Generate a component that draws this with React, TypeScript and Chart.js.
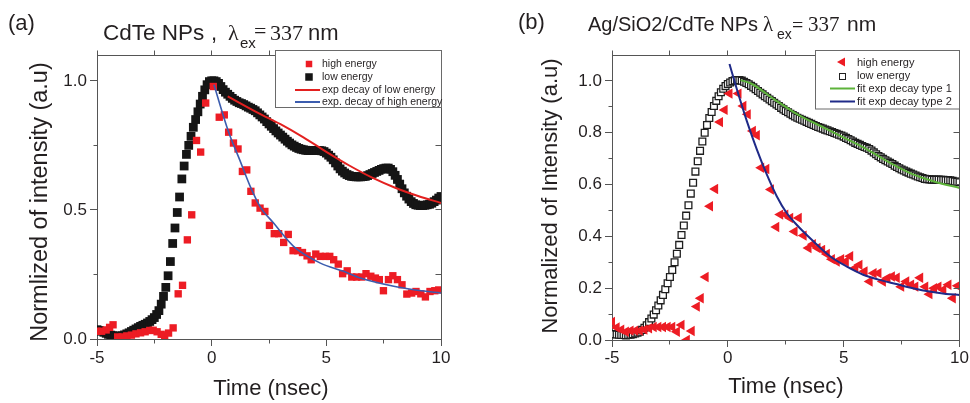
import React, { useEffect, useRef } from 'react';
import { Chart, registerables } from 'chart.js';

Chart.register(...registerables);

// ---------- panel (a): CdTe NPs ----------
// low-energy trace, sampled every 0.1 ns starting at -5 ns
const A_LOW_START = -5;
const A_LOW_STEP = 0.1;
const A_LOW = [
  0.036, 0.033, 0.030, 0.026, 0.022, 0.018, 0.015, 0.013, 0.011, 0.010,
  0.011, 0.013, 0.016, 0.020, 0.024, 0.029, 0.034, 0.039, 0.044, 0.049,
  0.053, 0.057, 0.062, 0.068, 0.075, 0.083, 0.095, 0.110, 0.135, 0.165,
  0.200, 0.245, 0.300, 0.370, 0.430, 0.490, 0.550, 0.620, 0.670, 0.715,
  0.750, 0.785, 0.820, 0.850, 0.880, 0.910, 0.940, 0.965, 0.985, 0.997,
  1.000, 1.000, 0.997, 0.990, 0.978, 0.966, 0.956, 0.948, 0.940, 0.932,
  0.925, 0.920, 0.915, 0.912, 0.908, 0.903, 0.898, 0.894, 0.889, 0.884,
  0.876, 0.868, 0.860, 0.852, 0.842, 0.833, 0.824, 0.815, 0.806, 0.798,
  0.790, 0.782, 0.774, 0.766, 0.759, 0.752, 0.747, 0.742, 0.738, 0.735,
  0.733, 0.731, 0.730, 0.730, 0.730, 0.730, 0.730, 0.730, 0.729, 0.726,
  0.720, 0.712, 0.704, 0.694, 0.682, 0.670, 0.659, 0.650, 0.643, 0.637,
  0.633, 0.630, 0.629, 0.628, 0.628, 0.628, 0.629, 0.630, 0.633, 0.637,
  0.641, 0.645, 0.649, 0.653, 0.657, 0.660, 0.662, 0.662, 0.657, 0.648,
  0.634, 0.618, 0.600, 0.582, 0.566, 0.553, 0.542, 0.532, 0.525, 0.520,
  0.518, 0.517, 0.517, 0.518, 0.520, 0.522, 0.526, 0.532, 0.538, 0.546,
  0.552,
];

const A_HIGH_T = [
  -5.0, -4.8, -4.6, -4.45, -4.3, -4.1, -3.9, -3.7, -3.5, -3.3,
  -3.1, -2.9, -2.7, -2.55, -2.38, -2.2, -2.05, -1.88, -1.68, -1.46,
  -1.27, -1.06, -0.87, -0.66, -0.48, -0.26, 0.07, 0.33, 0.55, 0.74,
  0.95, 1.15, 1.34, 1.53, 1.71, 1.9, 2.11, 2.32, 2.52, 2.73,
  2.92, 3.14, 3.34, 3.55, 3.75, 3.96, 4.16, 4.34, 4.54, 4.74,
  4.96, 5.15, 5.32, 5.52, 5.71, 5.91, 6.11, 6.32, 6.54, 6.73,
  6.94, 7.14, 7.31, 7.49, 7.71, 7.9, 8.1, 8.3, 8.51, 8.72,
  8.91, 9.12, 9.32, 9.52, 9.73, 9.9,
];
const A_HIGH = [
  0.03, 0.03, 0.035, 0.045, 0.055, 0.008, 0.008, 0.012, 0.015, 0.02,
  0.024, 0.028, 0.033, 0.034, 0.028, 0.018, 0.012, 0.023, 0.043, 0.175,
  0.208, 0.384, 0.481, 0.769, 0.724, 0.914, 0.978, 0.859, 0.868, 0.801,
  0.759, 0.736, 0.649, 0.655, 0.572, 0.527, 0.507, 0.494, 0.44, 0.408,
  0.408, 0.374, 0.405, 0.342, 0.342, 0.335, 0.322, 0.307, 0.329, 0.32,
  0.32, 0.32, 0.307, 0.29, 0.253, 0.264, 0.24, 0.24, 0.24, 0.253,
  0.243, 0.236, 0.23, 0.187, 0.23, 0.245, 0.23, 0.21, 0.174, 0.178,
  0.184, 0.175, 0.163, 0.184, 0.187, 0.19,
];

const A_FIT_LOW_T = [0.7, 2, 3, 4, 5, 6, 7, 8, 9, 10];
const A_FIT_LOW = [0.94, 0.877, 0.832, 0.781, 0.725, 0.672, 0.625, 0.586, 0.554, 0.527];

const A_FIT_HIGH_T = [0.1, 0.73, 1.24, 1.68, 2.11, 2.7, 3.57, 4.74, 5.76, 6.49, 7.94, 8.82, 10];
const A_FIT_HIGH = [0.985, 0.804, 0.69, 0.591, 0.513, 0.449, 0.359, 0.294, 0.262, 0.236, 0.204, 0.191, 0.178];

// ---------- panel (b): Ag/SiO2/CdTe NPs ----------
const B_LOW_START = -5;
const B_LOW_STEP = 0.1;
const B_LOW = [
  0.023, 0.022, 0.021, 0.020, 0.019, 0.019, 0.018, 0.019, 0.020, 0.022,
  0.025, 0.028, 0.032, 0.039, 0.047, 0.057, 0.069, 0.083, 0.098, 0.115,
  0.133, 0.153, 0.174, 0.196, 0.219, 0.243, 0.270, 0.300, 0.333, 0.367,
  0.405, 0.442, 0.480, 0.520, 0.565, 0.607, 0.650, 0.690, 0.730, 0.766,
  0.800, 0.830, 0.857, 0.880, 0.903, 0.923, 0.941, 0.956, 0.970, 0.980,
  0.988, 0.994, 0.999, 1.002, 1.003, 1.003, 1.001, 0.997, 0.992, 0.987,
  0.981, 0.975, 0.968, 0.961, 0.954, 0.948, 0.941, 0.935, 0.928, 0.922,
  0.916, 0.909, 0.903, 0.896, 0.890, 0.884, 0.879, 0.873, 0.868, 0.863,
  0.858, 0.854, 0.850, 0.846, 0.842, 0.838, 0.834, 0.830, 0.826, 0.822,
  0.819, 0.816, 0.812, 0.809, 0.806, 0.803, 0.799, 0.796, 0.792, 0.789,
  0.785, 0.780, 0.776, 0.771, 0.766, 0.761, 0.757, 0.753, 0.749, 0.745,
  0.742, 0.737, 0.731, 0.724, 0.717, 0.710, 0.705, 0.699, 0.694, 0.689,
  0.684, 0.679, 0.673, 0.668, 0.663, 0.658, 0.654, 0.650, 0.646, 0.642,
  0.639, 0.635, 0.631, 0.628, 0.625, 0.622, 0.621, 0.620, 0.619, 0.619,
  0.619, 0.619, 0.618, 0.618, 0.617, 0.617, 0.616, 0.614, 0.612, 0.611,
  0.609,
];

const B_HIGH_T = [
  -5.0, -4.8, -4.6, -4.4, -4.2, -4.0, -3.8, -3.6, -3.4, -3.2,
  -3.0, -2.8, -2.6, -2.4, -2.2, -2.0,
  -1.77, -1.56, -1.34, -1.17, -0.96, -0.77, -0.55, -0.34, -0.14, 0.07,
  0.46, 0.67, 0.86, 1.08, 1.25, 1.44, 1.66, 1.86, 2.09, 2.26,
  2.48, 2.69, 2.88, 3.06, 3.27, 3.48, 3.67, 3.87, 4.07, 4.27,
  4.49, 4.7, 4.89, 5.09, 5.28, 5.5, 5.68, 5.9, 6.12, 6.29,
  6.5, 6.69, 6.89, 7.08, 7.29, 7.48, 7.7, 7.91, 8.09, 8.3,
  8.52, 8.7, 8.9, 9.09, 9.3, 9.52, 9.71, 9.92,
];
const B_HIGH = [
  0.07, 0.048, 0.04, 0.032, 0.036, 0.036, 0.036, 0.04, 0.045, 0.05,
  0.05, 0.05, 0.05, 0.05, 0.032, 0.058,
  0.0, 0.035, 0.129, 0.161, 0.243, 0.516, 0.583, 0.841, 0.888, 0.951,
  0.951, 0.903, 0.871, 0.807, 0.79, 0.665, 0.66, 0.581, 0.436, 0.484,
  0.484, 0.471, 0.419, 0.471, 0.403, 0.355, 0.37, 0.355, 0.348, 0.332,
  0.312, 0.303, 0.312, 0.303, 0.323, 0.278, 0.29, 0.265, 0.226, 0.258,
  0.258, 0.226, 0.239, 0.245, 0.24, 0.206, 0.226, 0.213, 0.206, 0.24,
  0.206, 0.177, 0.2, 0.206, 0.194, 0.213, 0.161, 0.209,
];

const B_FIT1_T = [0.55, 1, 2, 3, 4, 5, 6, 7, 8, 9, 10];
const B_FIT1 = [1.003, 0.99, 0.929, 0.871, 0.826, 0.781, 0.736, 0.684, 0.639, 0.609, 0.587];

const B_FIT2_T = [0.07, 0.39, 0.82, 1.25, 1.68, 2.11, 2.54, 2.97, 3.69, 4.41, 5.12, 5.84, 6.55, 7.27, 7.99, 8.7, 9.42, 10];
const B_FIT2 = [1.065, 0.968, 0.845, 0.736, 0.639, 0.555, 0.49, 0.445, 0.381, 0.323, 0.284, 0.252, 0.232, 0.216, 0.2, 0.187, 0.178, 0.174];

// ---------- axes ----------
const X_MAJOR = [-5, 0, 5, 10];
const X_MINOR = [-2.5, 2.5, 7.5];
const X_TOP = [-5, -2.5, 0, 2.5, 5, 7.5, 10];
const A_Y_MAJOR = [0, 0.5, 1.0];
const A_Y_MINOR = [0.25, 0.75];
const A_Y_RIGHT = [0.25, 0.5, 0.75, 1.0];
const B_Y_MAJOR = [0, 0.2, 0.4, 0.6, 0.8, 1.0];
const B_Y_MINOR = [0.1, 0.3, 0.5, 0.7, 0.9];
const B_Y_RIGHT = [0.1, 0.2, 0.3, 0.4, 0.5, 0.6, 0.7, 0.8, 0.9, 1.0];

const A_LEGEND = ['high energy', 'low energy', 'exp decay of low energy', 'exp. decay of high energy'];
const B_LEGEND = ['high energy', 'low energy', 'fit exp decay type 1', 'fit exp decay type 2'];

// ---------- styling ----------
const SANS = '"Liberation Sans", Arial, Helvetica, sans-serif';
const SERIF = '"Liberation Serif", "Times New Roman", serif';
const INK = '#231f20';
const AXIS = '#555555';
const RED = '#ed1c24';
const BLACK = '#151515';
const RED_LINE = '#e3201f';
const A_BLUE = '#3b5cae';
const GREEN = '#5db33a';
const NAVY = '#1f2a88';

const pairs = (ts: number[], vs: number[]) => ts.map((t, i) => ({ x: t, y: vs[i] }));
const sampled = (t0: number, dt: number, vs: number[]) =>
  vs.map((v, i) => ({ x: Math.round((t0 + i * dt) * 100) / 100, y: v }));

type Seg = { t: string; x: number; y: number; font: string };
type LegendRow = { label: string; kind: 'rect' | 'hollow' | 'tri' | 'line'; color: string; size?: number };

interface Panel {
  offsetX: number;
  padTop: number;
  padRight: number;
  yWidth: number;
  xHeight: number;
  xPad: number;
  yMax: number;
  yMajor: number[];
  yMinor: number[];
  yRight: number[];
  datasets: any[];
  tag: Seg;
  title: Seg[];
  yTitle: { t: string; x: number; y: number; size: number };
  xTitle: { t: string; x: number; y: number };
  legend: {
    box: [number, number, number, number];
    symX: number;
    line: [number, number];
    textX: number;
    rows: number[];
    font: string;
    items: LegendRow[];
  };
}

const lineDs = (label: string, ts: number[], vs: number[], color: string, width: number) => ({
  label,
  data: pairs(ts, vs),
  showLine: true,
  pointRadius: 0,
  borderColor: color,
  borderWidth: width,
  cubicInterpolationMode: 'monotone',
  order: 0,
});

const PANEL_A: Panel = {
  offsetX: 0,
  padTop: 55,
  padRight: 44,
  yWidth: 97,
  xHeight: 64,
  xPad: 2,
  yMax: 1.1,
  yMajor: A_Y_MAJOR,
  yMinor: A_Y_MINOR,
  yRight: A_Y_RIGHT,
  datasets: [
    lineDs(A_LEGEND[3], A_FIT_HIGH_T, A_FIT_HIGH, A_BLUE, 1.6),
    lineDs(A_LEGEND[2], A_FIT_LOW_T, A_FIT_LOW, RED_LINE, 2),
    {
      label: A_LEGEND[0],
      data: pairs(A_HIGH_T, A_HIGH),
      pointStyle: 'rect',
      pointRadius: 5.2,
      pointBackgroundColor: RED,
      pointBorderWidth: 0,
      order: 1,
    },
    {
      label: A_LEGEND[1],
      data: sampled(A_LOW_START, A_LOW_STEP, A_LOW),
      pointStyle: 'rect',
      pointRadius: 6.2,
      pointBackgroundColor: BLACK,
      pointBorderWidth: 0,
      order: 2,
    },
  ],
  tag: { t: '(a)', x: 8, y: 30, font: `22px ${SANS}` },
  title: [
    { t: 'CdTe NPs', x: 103, y: 40, font: `22.5px ${SANS}` },
    { t: ',', x: 211, y: 40, font: `22px ${SANS}` },
    { t: 'λ', x: 228, y: 40, font: `22px ${SERIF}` },
    { t: 'ex', x: 240, y: 48, font: `15px ${SANS}` },
    { t: '=', x: 254, y: 38, font: `22px ${SERIF}` },
    { t: '337', x: 270, y: 40, font: `22px ${SERIF}` },
    { t: 'nm', x: 308, y: 40, font: `22px ${SANS}` },
  ],
  yTitle: { t: 'Normlized of intensity (a.u)', x: 41, y: 202, size: 23.5 },
  xTitle: { t: 'Time (nsec)', x: 271, y: 389 },
  legend: {
    box: [275.5, 50.5, 166, 57],
    symX: 309,
    line: [295, 320],
    textX: 322,
    rows: [64, 77, 90, 102],
    font: `10.5px ${SANS}`,
    items: [
      { label: A_LEGEND[0], kind: 'rect', color: RED, size: 6.5 },
      { label: A_LEGEND[1], kind: 'rect', color: BLACK, size: 7.5 },
      { label: A_LEGEND[2], kind: 'line', color: RED_LINE },
      { label: A_LEGEND[3], kind: 'line', color: A_BLUE },
    ],
  },
};

const PANEL_B: Panel = {
  offsetX: 485,
  padTop: 55,
  padRight: 10,
  yWidth: 127,
  xHeight: 63,
  xPad: 1,
  yMax: 1.1,
  yMajor: B_Y_MAJOR,
  yMinor: B_Y_MINOR,
  yRight: B_Y_RIGHT,
  datasets: [
    lineDs(B_LEGEND[3], B_FIT2_T, B_FIT2, NAVY, 2),
    lineDs(B_LEGEND[2], B_FIT1_T, B_FIT1, GREEN, 2),
    {
      label: B_LEGEND[0],
      data: pairs(B_HIGH_T, B_HIGH),
      pointStyle: 'triangle',
      pointRotation: -90,
      pointRadius: 6,
      pointBackgroundColor: RED,
      pointBorderWidth: 0,
      order: 1,
    },
    {
      label: B_LEGEND[1],
      data: sampled(B_LOW_START, B_LOW_STEP, B_LOW),
      pointStyle: 'rect',
      pointRadius: 4.8,
      pointBackgroundColor: '#ffffff',
      pointBorderColor: '#1e1e1e',
      pointBorderWidth: 1.3,
      order: 2,
    },
  ],
  tag: { t: '(b)', x: 518, y: 29, font: `22px ${SANS}` },
  title: [
    { t: 'Ag/SiO2/CdTe NPs', x: 588, y: 31, font: `20px ${SANS}` },
    { t: 'λ', x: 763, y: 31, font: `21px ${SERIF}` },
    { t: 'ex', x: 777, y: 39, font: `14px ${SANS}` },
    { t: '=', x: 792, y: 32, font: `20px ${SERIF}` },
    { t: '337', x: 808, y: 31, font: `21px ${SERIF}` },
    { t: 'nm', x: 847, y: 31, font: `21px ${SANS}` },
  ],
  yTitle: { t: 'Normalized of Intensity (a.u)', x: 551, y: 196, size: 22 },
  xTitle: { t: 'Time (nsec)', x: 786, y: 387 },
  legend: {
    box: [815.5, 50.5, 144, 58.5],
    symX: 842,
    line: [830, 855],
    textX: 857,
    rows: [62, 75.5, 88.5, 101.5],
    font: `11px ${SANS}`,
    items: [
      { label: B_LEGEND[0], kind: 'tri', color: RED },
      { label: B_LEGEND[1], kind: 'hollow', color: '#222222', size: 6 },
      { label: B_LEGEND[2], kind: 'line', color: GREEN },
      { label: B_LEGEND[3], kind: 'line', color: NAVY },
    ],
  },
};

const al = (v: number) => Math.round(v - 0.5) + 0.5;

function seg(ctx: CanvasRenderingContext2D, x1: number, y1: number, x2: number, y2: number) {
  ctx.beginPath();
  ctx.moveTo(x1, y1);
  ctx.lineTo(x2, y2);
  ctx.stroke();
}

// frame, minor ticks, titles and legend box
const decor = (p: Panel) => ({
  id: 'decor',
  afterDraw(chart: any) {
    const ctx: CanvasRenderingContext2D = chart.ctx;
    const { left, right, top, bottom } = chart.chartArea;
    const xs = chart.scales.x;
    const ys = chart.scales.y;
    const L = al(left);
    const R = al(right);
    const T = al(top);
    const B = al(bottom);

    ctx.save();
    ctx.strokeStyle = AXIS;
    ctx.lineWidth = 1;
    seg(ctx, L - 0.5, T, R + 0.5, T);
    seg(ctx, R, T, R, B);

    for (const v of p.yMinor) {
      const y = al(ys.getPixelForValue(v));
      seg(ctx, L - 4, y, L, y);
    }
    for (const v of X_MINOR) {
      const x = al(xs.getPixelForValue(v));
      seg(ctx, x, B, x, B + 4);
    }
    for (const v of X_TOP) {
      const x = al(xs.getPixelForValue(v));
      seg(ctx, x, T - 5, x, T);
    }
    for (const v of p.yRight) {
      const y = al(ys.getPixelForValue(v));
      seg(ctx, R - 6, y, R, y);
    }

    ctx.translate(-p.offsetX, 0);
    ctx.fillStyle = INK;
    ctx.textBaseline = 'alphabetic';
    ctx.textAlign = 'left';
    ctx.font = p.tag.font;
    ctx.fillText(p.tag.t, p.tag.x, p.tag.y);
    for (const s of p.title) {
      ctx.font = s.font;
      ctx.fillText(s.t, s.x, s.y);
    }

    ctx.font = `22px ${SANS}`;
    ctx.textAlign = 'center';
    ctx.textBaseline = 'middle';
    ctx.fillText(p.xTitle.t, p.xTitle.x, p.xTitle.y);
    ctx.save();
    ctx.font = `${p.yTitle.size}px ${SANS}`;
    ctx.translate(p.yTitle.x, p.yTitle.y);
    ctx.rotate(-Math.PI / 2);
    ctx.fillText(p.yTitle.t, 0, 0);
    ctx.restore();

    const lg = p.legend;
    const [bx, by, bw, bh] = lg.box;
    ctx.fillStyle = '#ffffff';
    ctx.fillRect(bx, by, bw, bh);
    ctx.strokeStyle = '#6a6a6a';
    ctx.lineWidth = 1;
    ctx.strokeRect(bx, by, bw, bh);
    lg.items.forEach((it, i) => {
      const y = lg.rows[i];
      const sx = lg.symX;
      if (it.kind === 'rect') {
        const s = it.size || 6;
        ctx.fillStyle = it.color;
        ctx.fillRect(sx - s / 2, y - s / 2, s, s);
      } else if (it.kind === 'hollow') {
        const s = it.size || 6;
        ctx.fillStyle = '#ffffff';
        ctx.fillRect(sx - s / 2, y - s / 2, s, s);
        ctx.strokeStyle = it.color;
        ctx.lineWidth = 1;
        ctx.strokeRect(Math.round(sx - s / 2) + 0.5, Math.round(y - s / 2) + 0.5, s, s);
      } else if (it.kind === 'tri') {
        ctx.fillStyle = it.color;
        ctx.beginPath();
        ctx.moveTo(sx - 5, y);
        ctx.lineTo(sx + 3, y - 4.5);
        ctx.lineTo(sx + 3, y + 4.5);
        ctx.closePath();
        ctx.fill();
      } else {
        ctx.strokeStyle = it.color;
        ctx.lineWidth = 2;
        seg(ctx, lg.line[0], y, lg.line[1], y);
      }
      ctx.fillStyle = INK;
      ctx.font = lg.font;
      ctx.textAlign = 'left';
      ctx.textBaseline = 'middle';
      ctx.fillText(it.label, lg.textX, y + 0.5);
    });
    ctx.restore();
  },
});

function buildConfig(p: Panel): any {
  const tickFont = { family: SANS, size: 17 };
  return {
    type: 'scatter',
    data: { datasets: p.datasets },
    options: {
      animation: false,
      responsive: false,
      devicePixelRatio: 1,
      events: [],
      layout: { padding: { top: p.padTop, right: p.padRight, left: 0, bottom: 0 } },
      plugins: { legend: { display: false }, tooltip: { enabled: false } },
      scales: {
        x: {
          type: 'linear',
          position: 'bottom',
          min: -5,
          max: 10,
          afterBuildTicks: (s: any) => {
            s.ticks = X_MAJOR.map((value) => ({ value }));
          },
          afterFit: (s: any) => {
            s.height = p.xHeight;
          },
          ticks: {
            font: tickFont,
            color: INK,
            padding: p.xPad,
            autoSkip: false,
            maxRotation: 0,
            callback: (v: any) => String(v),
          },
          grid: { drawOnChartArea: false, tickLength: 7, color: AXIS, tickWidth: 1 },
          border: { color: AXIS, width: 1 },
        },
        y: {
          type: 'linear',
          position: 'left',
          min: 0,
          max: p.yMax,
          afterBuildTicks: (s: any) => {
            s.ticks = p.yMajor.map((value) => ({ value }));
          },
          afterFit: (s: any) => {
            s.width = p.yWidth;
          },
          ticks: {
            font: tickFont,
            color: INK,
            padding: 3,
            autoSkip: false,
            callback: (v: any) => Number(v).toFixed(1),
          },
          grid: { drawOnChartArea: false, tickLength: 7, color: AXIS, tickWidth: 1 },
          border: { color: AXIS, width: 1 },
        },
      },
    },
    plugins: [decor(p)],
  };
}

function PanelChart({ p }: { p: Panel }) {
  const ref = useRef<HTMLCanvasElement>(null);
  useEffect(() => {
    if (!ref.current) return;
    const chart = new Chart(ref.current, buildConfig(p));
    return () => chart.destroy();
  }, [p]);
  return (
    <canvas
      ref={ref}
      width={485}
      height={403}
      style={{ position: 'absolute', left: p.offsetX, top: 0, width: 485, height: 403 }}
    />
  );
}

export default function App() {
  return (
    <div style={{ position: 'absolute', left: 0, top: 0, width: 970, height: 403, background: '#ffffff', overflow: 'hidden' }}>
      <PanelChart p={PANEL_A} />
      <PanelChart p={PANEL_B} />
    </div>
  );
}
